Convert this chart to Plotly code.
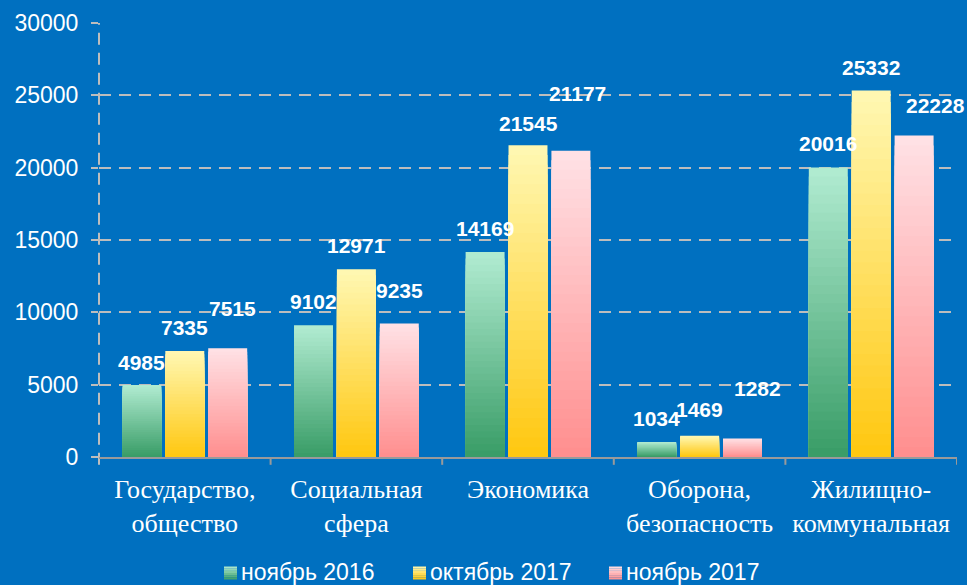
import plotly.graph_objects as go

# Categories and values
categories = ["Государство,<br>общество", "Социальная<br>сфера", "Экономика",
              "Оборона,<br>безопасность", "Жилищно-<br>коммунальная"]
nov_2016 = [4985, 9102, 14169, 1034, 20016]
oct_2017 = [7335, 12971, 21545, 1469, 25332]
nov_2017 = [7515, 9235, 21177, 1282, 22228]
series_names = ["ноябрь 2016", "октябрь 2017", "ноябрь 2017"]
y_ticks = [0, 5000, 10000, 15000, 20000, 25000, 30000]

# Styling: gradient end colours (top, bottom) per series
grad_colors = [((178, 236, 210), (56, 156, 102)),
               ((255, 248, 180), (255, 199, 15)),
               ((255, 226, 230), (255, 142, 142))]
bar_width = 0.227
bar_offsets = [-0.3635, -0.1135, 0.1365]
centre_dx = [-0.25, 0.0, 0.25]
# label placement tweaks (pixels)
label_xshift = [[0, 0, 0, 0, 0], [0, 0, 0, 0, 0], [5, 0, 7, 15, 21]]
label_yshift = [[22, 24, 24, 24, 24], [23, 24, 22, 26, 23], [40, 33, 57, 50, 30]]

W, H = 967, 585
ML, MR, MT, MB = 99, 10, 23, 128
PW, PH = W - ML - MR, H - MT - MB

BG = "#0070c0"
GRID = "#bdbdbd"
AXIS = "#9a9a9a"
STEPS = 32


def lerp(c0, c1, t):
    return "rgb(%d,%d,%d)" % tuple(round(a + (b - a) * t) for a, b in zip(c0, c1))


def px_x(px):
    return (px - ML) / PW


def px_y(py):
    return (H - MB - py) / PH


fig = go.Figure()
xs = list(range(len(categories)))
all_series = [nov_2016, oct_2017, nov_2017]

# gradient bars: stacked overlays of decreasing height, light at top, dark at base
for s, values in enumerate(all_series):
    top, bottom = grad_colors[s]
    for k in range(STEPS):
        frac = 1 - k / STEPS
        t = (k + 0.5) / STEPS
        fig.add_trace(go.Bar(
            x=xs, y=[v * frac for v in values],
            width=bar_width, offset=bar_offsets[s],
            marker=dict(color=lerp(top, bottom, t), line=dict(width=0)),
            name=series_names[s], showlegend=False, hoverinfo="skip",
        ))

# value labels
for s, values in enumerate(all_series):
    for i, v in enumerate(values):
        fig.add_annotation(
            x=i + centre_dx[s], y=v, text="<b>%d</b>" % v, showarrow=False,
            xshift=label_xshift[s][i], yshift=label_yshift[s][i],
            yanchor="middle", xanchor="center",
            font=dict(family="Liberation Sans, Arial", size=21, color="white"),
        )

# dashed vertical axis line
fig.add_shape(type="line", xref="x domain", yref="paper", x0=0, x1=0, y0=-0.018, y1=1,
              line=dict(color=GRID, width=2, dash="12px,8px"), layer="below")

# category boundary tick marks below the axis
for b in range(1, len(categories) + 1):
    fig.add_shape(type="line", xref="x", yref="paper", x0=b - 0.5, x1=b - 0.5,
                  y0=0, y1=-0.018, line=dict(color=AXIS, width=2))

# legend: gradient squares with labels
legend_sq_x = [224, 413, 609]
legend_txt_x = [239, 428, 624]
legend_cy = 572
SQ = 13
BANDS = 6
for s in range(3):
    top, bottom = grad_colors[s]
    for b in range(BANDS):
        y_top = legend_cy + 1 - SQ / 2 + SQ * b / BANDS
        y_bot = legend_cy + 1 - SQ / 2 + SQ * (b + 1) / BANDS
        fig.add_shape(type="rect", xref="paper", yref="paper",
                      x0=px_x(legend_sq_x[s]), x1=px_x(legend_sq_x[s] + SQ),
                      y0=px_y(y_bot), y1=px_y(y_top),
                      fillcolor=lerp(top, bottom, (b + 0.5) / BANDS),
                      line=dict(width=0))
    fig.add_annotation(
        xref="paper", yref="paper", x=px_x(legend_txt_x[s]), y=px_y(legend_cy),
        text=series_names[s], showarrow=False, xanchor="left", yanchor="middle",
        font=dict(family="Liberation Sans, Arial", size=23, color="white"),
    )

fig.update_layout(
    width=W, height=H,
    paper_bgcolor=BG, plot_bgcolor=BG,
    barmode="overlay",
    margin=dict(l=ML, r=MR, t=MT, b=MB, autoexpand=False),
    showlegend=False,
    xaxis=dict(
        tickmode="array", tickvals=xs, ticktext=categories,
        range=[-0.5, len(categories) - 0.5],
        showgrid=False, zeroline=False,
        showline=True, linecolor=AXIS, linewidth=2,
        ticks="",
        tickfont=dict(family="Liberation Serif, Times New Roman", size=26, color="white"),
        ticklabelstandoff=8,
    ),
    yaxis=dict(
        range=[0, 30000], tickvals=y_ticks, tickformat="d",
        showgrid=True, gridcolor=GRID, gridwidth=2, griddash="12px,8px",
        zeroline=False, showline=False,
        ticks="outside", ticklen=7, tickcolor=GRID, tickwidth=2,
        tickfont=dict(family="Liberation Sans, Arial", size=23, color="white"),
        ticklabelstandoff=8,
    ),
)

fig.write_html("out.html")
